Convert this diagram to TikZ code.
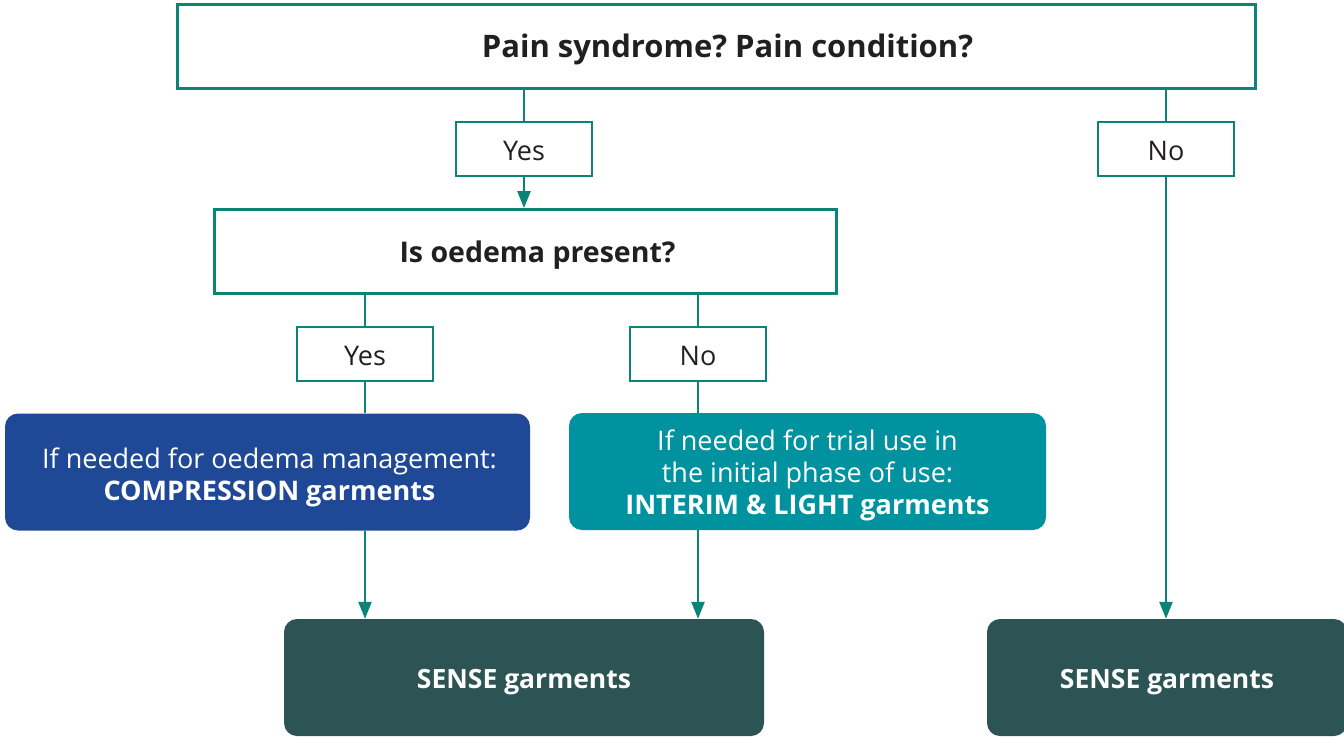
\documentclass[tikz,border=0pt]{standalone}
\usepackage{fontspec}
\setmainfont{Open Sans}
\usetikzlibrary{arrows.meta}
\frenchspacing
\definecolor{lineteal}{HTML}{0B8477}
\definecolor{compblue}{HTML}{1F4896}
\definecolor{interimteal}{HTML}{00929E}
\definecolor{sensegreen}{HTML}{2D5454}
\definecolor{txtdark}{HTML}{231F20}
\tikzset{
  qbox/.style={draw=lineteal, line width=2.8pt, fill=white, inner sep=0pt},
  ansbox/.style={draw=lineteal, line width=2.8pt, fill=white, inner sep=0pt, minimum width=136pt, minimum height=54pt},
  resbox/.style={rounded corners=13pt, inner sep=0pt},
  darktxt/.style={inner sep=0pt, text=txtdark, font=\fontsize{27}{32}\selectfont},
  whitetxt/.style={inner sep=0pt, text=white, align=center, font=\fontsize{27}{32}\selectfont},
  conn/.style={draw=lineteal, line width=2.5pt},
  arr/.style={conn, -{Triangle[width=13pt,length=17pt]}}
}
\begin{document}
\begin{tikzpicture}[x=1pt,y=-1pt]
\useasboundingbox (0,0) rectangle (1344,737);
% boxes
\node[qbox, minimum width=1078pt, minimum height=84pt] (top) at (716.5,46.5) {};
\node[ansbox] (yes1) at (524,149) {};
\node[ansbox] (no1) at (1166,149) {};
\node[qbox, minimum width=622pt, minimum height=84pt] (oed) at (525.5,251.5) {};
\node[ansbox] (yes2) at (365,354) {};
\node[ansbox] (no2) at (698,354) {};
\node[resbox, fill=compblue, minimum width=525pt, minimum height=117pt] (comp) at (267.5,472) {};
\node[resbox, fill=interimteal, minimum width=477pt, minimum height=117pt] (interim) at (807.5,471.5) {};
\node[resbox, fill=sensegreen, minimum width=480pt, minimum height=117pt] (sense1) at (524,677.5) {};
\node[resbox, fill=sensegreen, minimum width=360pt, minimum height=117pt] (sense2) at (1167,677.5) {};
% texts
\node[darktxt, font=\fontsize{31}{36}\selectfont\bfseries] (top-t) at ([shift={(11,3)}]top.center) {Pain syndrome? Pain condition?};
\node[darktxt] (yes1-t) at ([shift={(0,2)}]yes1.center) {Yes};
\node[darktxt] (no1-t) at ([shift={(0,2)}]no1.center) {No};
\node[darktxt, font=\fontsize{28.5}{34}\selectfont\bfseries] (oed-t) at ([shift={(12,4)}]oed.center) {Is oedema present?};
\node[darktxt] (yes2-t) at ([shift={(0,2)}]yes2.center) {Yes};
\node[darktxt] (no2-t) at ([shift={(0,2)}]no2.center) {No};
\node[whitetxt] (comp-t) at ([shift={(2,5)}]comp.center) {If needed for oedema management:\\\textbf{COMPRESSION garments}};
\node[whitetxt] (interim-t) at ([shift={(0,4)}]interim.center) {If needed for trial use in\\the initial phase of use:\\\textbf{INTERIM \& LIGHT garments}};
\node[whitetxt, font=\fontsize{26.5}{32}\selectfont\bfseries] (sense1-t) at ([shift={(0,5)}]sense1.center) {SENSE garments};
\node[whitetxt, font=\fontsize{26.5}{32}\selectfont\bfseries] (sense2-t) at ([shift={(0,5)}]sense2.center) {SENSE garments};
% connectors
\draw[conn] (yes1.north |- top.south) -- (yes1.north);
\draw[arr] (yes1.south) -- (yes1.south |- oed.north);
\draw[conn] (no1.north |- top.south) -- (no1.north);
\draw[arr] (no1.south) -- (no1.south |- sense2.north);
\draw[conn] (yes2.north |- oed.south) -- (yes2.north);
\draw[conn] (no2.north |- oed.south) -- (no2.north);
\draw[conn] (yes2.south) -- (yes2.south |- comp.north);
\draw[conn] (no2.south) -- (no2.south |- interim.north);
\draw[arr] (yes2.south |- comp.south) -- (yes2.south |- sense1.north);
\draw[arr] (no2.south |- interim.south) -- (no2.south |- sense1.north);
\end{tikzpicture}
\end{document}
